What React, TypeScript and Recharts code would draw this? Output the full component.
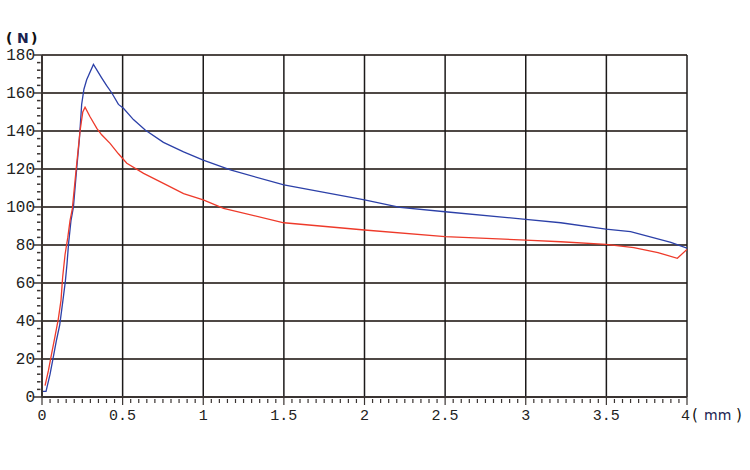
import React from "react";
import {
  CartesianGrid,
  Line,
  LineChart,
  XAxis,
  YAxis,
} from "recharts";

// force (N) against displacement (mm)
const blueX = [
  0, 0.025, 0.05, 0.07, 0.09, 0.11, 0.13, 0.145, 0.155, 0.165, 0.18, 0.195,
  0.215, 0.232, 0.246, 0.26, 0.277, 0.319, 0.37, 0.4, 0.433, 0.474, 0.505,
  0.567, 0.64, 0.753, 0.878, 1.0, 1.168, 1.5, 2.0, 2.22, 2.5, 3.0, 3.217,
  3.497, 3.65, 3.9, 4.0,
];
const blueY = [
  3, 3, 12, 21, 30, 38, 51, 61, 70, 81, 93, 100, 120, 136, 154, 162, 167, 175,
  168, 164, 160, 154, 152, 146, 140.5, 134, 129, 124.7, 119.5, 111.6, 103.7,
  99.8, 97.5, 93.5, 91.7, 88.4, 87, 81.4, 78.3,
];

const redX = [
  0.019, 0.04, 0.06, 0.081, 0.101, 0.118, 0.128, 0.143, 0.16, 0.174, 0.188,
  0.212, 0.236, 0.253, 0.267, 0.298, 0.34, 0.37, 0.422, 0.474, 0.526, 0.63,
  0.753, 0.878, 1.0, 1.126, 1.5, 2.0, 2.5, 3.0, 3.217, 3.497, 3.67, 3.82, 3.94,
  4.0,
];
const redY = [
  6, 14, 23, 32, 41, 51, 63, 75, 84, 93, 99, 120, 140, 150, 152.5, 147.5,
  141.4, 138, 133.5, 128, 123, 117.7, 112.4, 107, 103.7, 99.3, 91.7, 87.9,
  84.4, 82.6, 81.7, 80.3, 78.6, 76, 73, 77.7,
];

const xMajor = [0, 0.5, 1, 1.5, 2, 2.5, 3, 3.5, 4];
const yMajor = [0, 20, 40, 60, 80, 100, 120, 140, 160, 180];

// minor tick marks: every 0.05 mm and every 4 N
const xMinor = Array.from({ length: 81 }, (_, i) => Math.round(i * 5) / 100);
const yMinor = Array.from({ length: 46 }, (_, i) => i * 4);

const blueData = blueX.map((x, i) => ({ x, y: blueY[i] }));
const redData = redX.map((x, i) => ({ x, y: redY[i] }));

const TICK_FONT = "'Liberation Mono', 'DejaVu Sans Mono', monospace";
const UNIT_FONT = "'DejaVu Sans', sans-serif";
const AXIS = "#3a3432";

function YTick({ x, y, payload }: any) {
  const v = payload.value;
  const major = v % 20 === 0;
  return (
    <g>
      <line
        x1={major ? x : x - 1.5}
        x2={major ? x - 8 : x - 5}
        y1={y}
        y2={y}
        stroke={AXIS}
        strokeWidth={1.5}
      />
      {major && (
        <text
          x={x - 7}
          y={y + 5}
          textAnchor="end"
          fontFamily={TICK_FONT}
          fontSize={16}
          fill="#222"
        >
          {v}
        </text>
      )}
    </g>
  );
}

function XTick({ x, y, payload }: any) {
  const v = payload.value;
  const major = Math.abs(v * 2 - Math.round(v * 2)) < 1e-6;
  return (
    <g>
      <line
        x1={x}
        x2={x}
        y1={major ? y : y + 2}
        y2={major ? y + 8 : y + 6}
        stroke={AXIS}
        strokeWidth={1.2}
      />
      {major && (
        <text
          x={v === 4 ? x - 6 : x}
          y={y + 23}
          textAnchor={v === 4 ? "start" : "middle"}
          fontFamily={TICK_FONT}
          fontSize={15}
          fill="#222"
        >
          {String(v)}
        </text>
      )}
    </g>
  );
}

export default function App() {
  return (
    <div style={{ position: "absolute", left: 0, top: 0, width: 750, height: 470, background: "#fff" }}>
      <LineChart
        width={750}
        height={470}
        margin={{ top: 55, right: 63, bottom: 0, left: 0 }}
      >
        <CartesianGrid
          horizontal
          vertical={false}
          horizontalValues={yMajor}
          stroke="#4f4845"
          strokeWidth={2}
        />
        <CartesianGrid
          horizontal={false}
          vertical
          verticalValues={xMajor}
          stroke="#1c1a1a"
          strokeWidth={1.5}
        />
        <XAxis
          type="number"
          dataKey="x"
          domain={[0, 4]}
          ticks={xMinor}
          interval={0}
          allowDataOverflow
          height={73}
          tickSize={0}
          tickMargin={0}
          tickLine={false}
          axisLine={{ stroke: AXIS, strokeWidth: 2 }}
          tick={<XTick />}
        />
        <YAxis
          type="number"
          dataKey="y"
          domain={[0, 180]}
          ticks={yMinor}
          interval={0}
          allowDataOverflow
          width={42}
          tickSize={0}
          tickMargin={0}
          tickLine={false}
          axisLine={{ stroke: AXIS, strokeWidth: 2 }}
          tick={<YTick />}
        />
        <Line
          data={blueData}
          dataKey="y"
          type="linear"
          stroke="#2c40a8"
          strokeWidth={1.3}
          dot={false}
          isAnimationActive={false}
        />
        <Line
          data={redData}
          dataKey="y"
          type="linear"
          stroke="#ee3a2a"
          strokeWidth={1.3}
          dot={false}
          isAnimationActive={false}
        />
      </LineChart>
      <svg
        width={750}
        height={470}
        style={{ position: "absolute", left: 0, top: 0, pointerEvents: "none" }}
      >
        <text y={43} fontFamily={UNIT_FONT} fontWeight={700} fontSize={14} fill="#111">
          <tspan x={6}>(</tspan>
          <tspan x={17} fill="#1a2250">N</tspan>
          <tspan x={31}>)</tspan>
        </text>
        <text y={420} fontFamily={UNIT_FONT} fontSize={15} fill="#111">
          <tspan x={692}>(</tspan>
          <tspan x={704} fontSize={14} fill="#1a2250">mm</tspan>
          <tspan x={736}>)</tspan>
        </text>
      </svg>
    </div>
  );
}
